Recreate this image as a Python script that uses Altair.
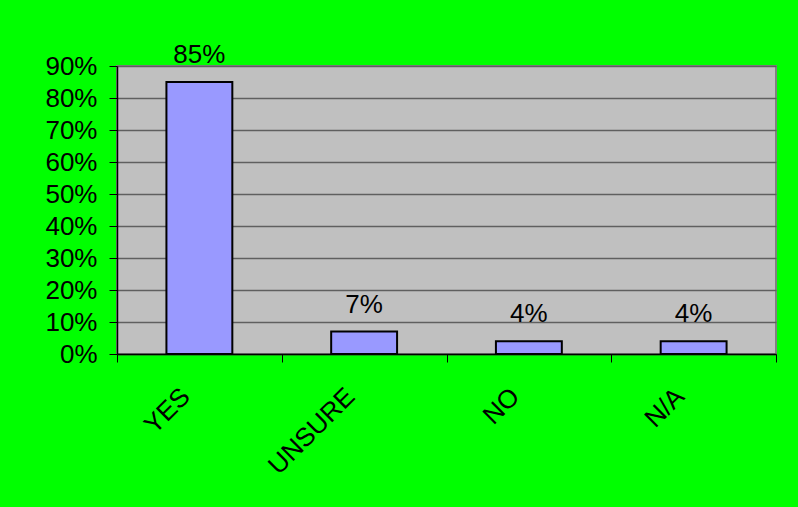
import altair as alt
import pandas as pd

categories = ["YES", "UNSURE", "NO", "N/A"]
values = [0.85, 0.07, 0.04, 0.04]
y_ticks = [0.0, 0.1, 0.2, 0.3, 0.4, 0.5, 0.6, 0.7, 0.8, 0.9]

df = pd.DataFrame({"answer": categories, "share": values})

FONT = "Liberation Sans"
FS = 26

x_enc = alt.X(
    "answer:N",
    sort=categories,
    title=None,
    scale=alt.Scale(paddingInner=0, paddingOuter=0),
    axis=alt.Axis(
        labelAngle=-45,
        labelAlign="right",
        labelBaseline="middle",
        labelPadding=30,
        labelOffset=-14,
        labelFontSize=FS,
        labelFont=FONT,
        labelColor="black",
        labelOverlap=False,
        tickBand="extent",
        tickSize=8,
        tickColor="black",
        domainColor="black",
        domainWidth=1.5,
        grid=False,
    ),
)

y_enc = alt.Y(
    "share:Q",
    title=None,
    scale=alt.Scale(domain=[0, 0.9], nice=False),
    axis=alt.Axis(
        values=y_ticks,
        tickCount=10,
        format=".0%",
        labelFontSize=FS,
        labelFont=FONT,
        labelColor="black",
        labelPadding=12,
        labelOverlap=False,
        labelFlush=False,
        tickSize=8,
        tickColor="black",
        domainColor="black",
        domainWidth=1.5,
        grid=True,
        gridColor="#5f5f5f",
        gridWidth=1.5,
    ),
)

base = alt.Chart(df).encode(x=x_enc, y=y_enc)

bars = base.mark_bar(
    width=alt.RelativeBandSize(0.4),
    color="#9999FF",
    stroke="black",
    strokeWidth=2,
)

labels = base.mark_text(
    baseline="alphabetic",
    dy=-19,
    fontSize=FS,
    font=FONT,
    color="black",
).encode(
    text=alt.Text("share:Q", format=".0%"),
)

chart = (
    alt.layer(bars, labels)
    .properties(
        width=659,
        height=288,
        background="#00FF00",
        padding={"left": 117, "top": 66, "right": 22, "bottom": 153},
        autosize=alt.AutoSizeParams(type="none"),
    )
    .configure_view(fill="#C0C0C0", stroke="#808080", strokeWidth=2)
)

chart.save("out.html", embed_options={"renderer": "svg", "actions": False})
